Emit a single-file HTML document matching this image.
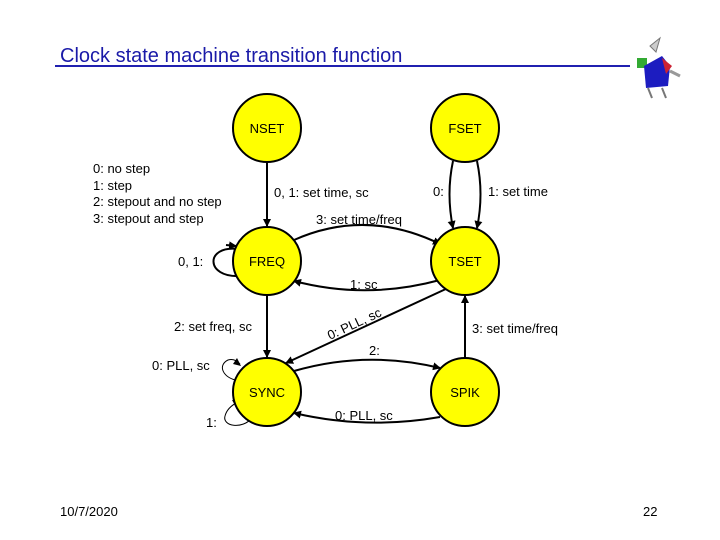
<!DOCTYPE html>
<html><head><style>body{margin:0;background:#fff}svg{display:block}</style></head><body>
<svg width="720" height="540" viewBox="0 0 720 540" xmlns="http://www.w3.org/2000/svg" font-family="Liberation Sans, Arial, sans-serif">
<defs><marker id="a" markerWidth="8" markerHeight="8" refX="7" refY="4" orient="auto" markerUnits="userSpaceOnUse"><path d="M0,0 L8,4 L0,8 z" fill="#000"/></marker></defs>
<text x="60" y="62" font-size="20" fill="#1a1aa8">Clock state machine transition function</text>
<line x1="55" y1="66" x2="630" y2="66" stroke="#2020b0" stroke-width="2"/>
<g transform="translate(632,36)">
<path d="M18,10 L28,2 L24,16 Z" fill="#ccc" stroke="#777"/>
<rect x="5" y="22" width="10" height="10" fill="#3a3" />
<path d="M12,30 L30,20 L38,30 L36,50 L14,52 Z" fill="#1c1cc0"/>
<path d="M30,22 L40,30 L34,38 Z" fill="#c23"/>
<path d="M16,52 L20,62 M30,52 L34,62" stroke="#777" stroke-width="2"/>
<path d="M38,35 L48,40" stroke="#999" stroke-width="3"/>
</g>
<g font-size="13" fill="#000">
<text x="93" y="173">0: no step</text>
<text x="93" y="190">1: step</text>
<text x="93" y="206">2: stepout and no step</text>
<text x="93" y="223">3: stepout and step</text>
</g>
<g stroke="#000" stroke-width="2" fill="none">
<line x1="267" y1="162" x2="267" y2="226" marker-end="url(#a)"/>
<path d="M453,161 Q446,194 453,228" marker-end="url(#a)"/>
<path d="M477,161 Q484,194 477,228" marker-end="url(#a)"/>
<path d="M294,240 Q366,208 440,244" marker-end="url(#a)"/>
<path d="M440,280 Q366,300 294,281" marker-end="url(#a)"/>
<line x1="267" y1="295" x2="267" y2="357" marker-end="url(#a)"/>
<line x1="448" y1="288" x2="286" y2="363" marker-end="url(#a)"/>
<line x1="465" y1="358" x2="465" y2="296" marker-end="url(#a)"/>
<path d="M294,371 Q366,350 440,368" marker-end="url(#a)"/>
<path d="M440,417 Q366,430 294,413" marker-end="url(#a)"/>
<path d="M238,249 C205,245 205,278 240,276" />
<path d="M226,245 L236,246" marker-end="url(#a)"/>
</g>
<g stroke="#000" stroke-width="1" fill="none">
<path d="M235,380 C222,376 218,365 228,360 C234,358 238,362 240,364"/>
<path d="M252,418 C242,430 222,426 225,416 C227,408 234,404 238,402"/>
</g>
<g fill="#000"><path d="M241,366 l-8,-2 l4,-6 z"/><path d="M240,401 l-8,-1 l4,7 z"/></g>
<g fill="#ffff00" stroke="#000" stroke-width="2">
<circle cx="267" cy="128" r="34"/><circle cx="465" cy="128" r="34"/>
<circle cx="267" cy="261" r="34"/><circle cx="465" cy="261" r="34"/>
<circle cx="267" cy="392" r="34"/><circle cx="465" cy="392" r="34"/>
</g>
<g font-size="13" fill="#000" text-anchor="middle">
<text x="267" y="133">NSET</text><text x="465" y="133">FSET</text>
<text x="267" y="266">FREQ</text><text x="465" y="266">TSET</text>
<text x="267" y="397">SYNC</text><text x="465" y="397">SPIK</text>
</g>
<g font-size="13" fill="#000">
<text x="274" y="197">0, 1: set time, sc</text>
<text x="316" y="224">3: set time/freq</text>
<text x="433" y="196">0:</text>
<text x="488" y="196">1: set time</text>
<text x="178" y="266">0, 1:</text>
<text x="350" y="289">1: sc</text>
<text x="174" y="331">2: set freq, sc</text>
<text x="330" y="340" transform="rotate(-25 330 340)">0: PLL, sc</text>
<text x="472" y="333">3: set time/freq</text>
<text x="369" y="355">2:</text>
<text x="152" y="370">0: PLL, sc</text>
<text x="335" y="420">0: PLL, sc</text>
<text x="206" y="427">1:</text>
<text x="60" y="516">10/7/2020</text>
<text x="643" y="516">22</text>
</g>
</svg>
</body></html>
